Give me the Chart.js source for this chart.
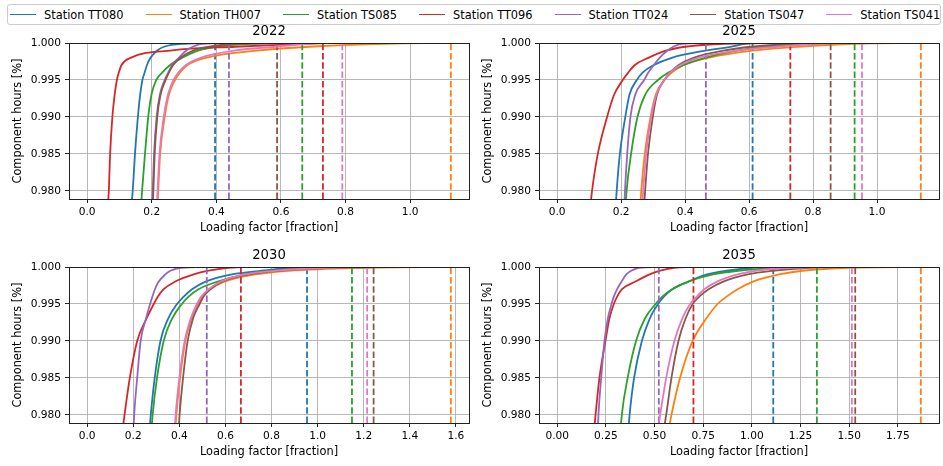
<!DOCTYPE html>
<html>
<head>
<meta charset="utf-8">
<script src="https://cdn.jsdelivr.net/npm/chart.js@4.4.1/dist/chart.umd.min.js"></script>
<style>
  body { margin: 0; width: 943px; height: 466px; background: #fff; position: relative; overflow: hidden; font-family: "DejaVu Sans", sans-serif; }
  #legend { position: absolute; left: 7px; top: 4px; width: 934px; height: 21px; box-sizing: border-box; border: 1px solid #ccc; border-radius: 3px;
            display: flex; align-items: center; padding-left: 2px; font-size: 11.4px; color: #000; }
  .item { display: flex; align-items: center; margin-right: 22px; white-space: nowrap; }
  .sw { width: 26px; height: 0; border-top: 1.8px solid; margin-right: 8px; }
  canvas { position: absolute; }
</style>
</head>
<body>
<div id="legend"></div>
<canvas id="c2022" width="472" height="216" style="left:0;top:24px"></canvas>
<canvas id="c2025" width="472" height="216" style="left:470px;top:24px"></canvas>
<canvas id="c2030" width="472" height="216" style="left:0;top:248px"></canvas>
<canvas id="c2035" width="472" height="216" style="left:470px;top:248px"></canvas>
<script>
const stations = ['Station TT080', 'Station TH007', 'Station TS085', 'Station TT096', 'Station TT024', 'Station TS047', 'Station TS041'];
const colors = ['#1f77b4', '#ff7f0e', '#2ca02c', '#d62728', '#9467bd', '#8c564b', '#e377c2'];

// component hours levels, loading factor read at each level (last one = max, dashed line)
const hourLevels = [0.978, 0.980, 0.985, 0.990, 0.993, 0.995, 0.996, 0.997, 0.998, 0.999, 0.9995, 0.9999, 1.000];

const load2022 = [
  [0.137, 0.141, 0.148, 0.157, 0.164, 0.171, 0.178, 0.185, 0.196, 0.217, 0.238, 0.300, 0.396],
  [0.218, 0.220, 0.226, 0.240, 0.253, 0.272, 0.287, 0.310, 0.367, 0.532, 0.687, 0.924, 1.126],
  [0.167, 0.170, 0.179, 0.189, 0.199, 0.214, 0.232, 0.256, 0.294, 0.346, 0.398, 0.521, 0.666],
  [0.064, 0.067, 0.071, 0.078, 0.085, 0.092, 0.098, 0.106, 0.134, 0.263, 0.459, 0.680, 0.730],
  [0.201, 0.203, 0.207, 0.215, 0.225, 0.240, 0.251, 0.263, 0.284, 0.307, 0.327, 0.356, 0.439],
  [0.203, 0.205, 0.209, 0.217, 0.227, 0.243, 0.253, 0.266, 0.289, 0.330, 0.377, 0.459, 0.588],
  [0.216, 0.218, 0.224, 0.237, 0.250, 0.267, 0.282, 0.305, 0.351, 0.459, 0.583, 0.687, 0.790]
];
const load2025 = [
  [0.183, 0.186, 0.196, 0.213, 0.226, 0.249, 0.267, 0.301, 0.358, 0.467, 0.545, 0.586, 0.611],
  [0.260, 0.263, 0.274, 0.292, 0.308, 0.335, 0.358, 0.394, 0.472, 0.618, 0.752, 0.929, 1.137],
  [0.214, 0.217, 0.231, 0.251, 0.275, 0.315, 0.348, 0.394, 0.462, 0.566, 0.649, 0.773, 0.930],
  [0.104, 0.109, 0.127, 0.156, 0.178, 0.205, 0.222, 0.242, 0.285, 0.343, 0.400, 0.524, 0.729],
  [0.210, 0.212, 0.219, 0.229, 0.244, 0.272, 0.285, 0.302, 0.320, 0.345, 0.363, 0.389, 0.465],
  [0.272, 0.275, 0.284, 0.299, 0.312, 0.335, 0.353, 0.379, 0.426, 0.524, 0.607, 0.732, 0.855],
  [0.266, 0.269, 0.278, 0.294, 0.310, 0.335, 0.353, 0.384, 0.441, 0.566, 0.690, 0.825, 0.953]
];
const load2030 = [
  [0.271, 0.276, 0.293, 0.318, 0.351, 0.390, 0.419, 0.455, 0.512, 0.628, 0.758, 0.880, 0.954],
  [0.382, 0.387, 0.403, 0.426, 0.452, 0.481, 0.501, 0.534, 0.592, 0.729, 0.873, 1.219, 1.578],
  [0.279, 0.284, 0.303, 0.332, 0.368, 0.411, 0.440, 0.483, 0.563, 0.685, 0.801, 0.974, 1.149],
  [0.154, 0.162, 0.185, 0.217, 0.257, 0.289, 0.307, 0.332, 0.380, 0.462, 0.527, 0.613, 0.667],
  [0.201, 0.204, 0.217, 0.232, 0.255, 0.273, 0.283, 0.294, 0.310, 0.339, 0.361, 0.411, 0.519],
  [0.397, 0.401, 0.416, 0.436, 0.459, 0.488, 0.505, 0.534, 0.584, 0.700, 0.830, 1.075, 1.243],
  [0.380, 0.384, 0.400, 0.423, 0.449, 0.476, 0.495, 0.527, 0.577, 0.685, 0.815, 1.046, 1.215]
];
const load2035 = [
  [0.366, 0.372, 0.395, 0.435, 0.475, 0.518, 0.548, 0.592, 0.672, 0.770, 0.870, 1.000, 1.110],
  [0.573, 0.587, 0.631, 0.696, 0.765, 0.824, 0.870, 0.927, 1.003, 1.140, 1.259, 1.500, 1.868],
  [0.326, 0.332, 0.362, 0.405, 0.450, 0.505, 0.540, 0.590, 0.670, 0.800, 0.930, 1.150, 1.334],
  [0.190, 0.197, 0.217, 0.248, 0.268, 0.291, 0.308, 0.333, 0.400, 0.475, 0.530, 0.600, 0.700],
  [0.209, 0.212, 0.226, 0.243, 0.260, 0.279, 0.291, 0.308, 0.330, 0.355, 0.380, 0.420, 0.522],
  [0.548, 0.560, 0.587, 0.623, 0.659, 0.696, 0.730, 0.778, 0.850, 0.978, 1.106, 1.300, 1.531],
  [0.517, 0.529, 0.560, 0.602, 0.642, 0.683, 0.717, 0.756, 0.819, 0.927, 1.020, 1.200, 1.514]
];

const xTicks2022 = [0, 0.2, 0.4, 0.6, 0.8, 1.0];
const xTicks2030 = [0, 0.2, 0.4, 0.6, 0.8, 1.0, 1.2, 1.4, 1.6];
const xTicks2035 = [0, 0.25, 0.5, 0.75, 1.0, 1.25, 1.5, 1.75];
const yTicks = [0.980, 0.985, 0.990, 0.995, 1.000];
const yMin = 0.9789, yMax = 1.0;

Chart.defaults.font.family = '"DejaVu Sans", sans-serif';
Chart.defaults.color = '#000';

// legend
const legend = document.getElementById('legend');
stations.forEach((s, i) => {
  const it = document.createElement('div');
  it.className = 'item';
  it.innerHTML = '<span class="sw" style="border-color:' + colors[i] + '"></span><span>' + s + '</span>';
  legend.appendChild(it);
});

// all four spines like matplotlib
const frame = {
  id: 'frame',
  afterDatasetsDraw(chart) {
    const a = chart.chartArea, c = chart.ctx;
    c.save();
    c.strokeStyle = '#222';
    c.lineWidth = 1;
    c.strokeRect(Math.round(a.left) + 0.5, Math.round(a.top) + 0.5, Math.round(a.right - a.left), Math.round(a.bottom - a.top));
    c.restore();
  }
};

function makePanel(id, year, loads, xTicks, decimals) {
  const maxLoad = Math.max(...loads.map(l => l[l.length - 1]));
  const datasets = [];
  loads.forEach((l, i) => {
    datasets.push({
      label: stations[i],
      data: l.map((x, k) => ({ x: x, y: hourLevels[k] })),
      borderColor: colors[i], borderWidth: 1.8, pointRadius: 0,
      cubicInterpolationMode: 'monotone', order: 100 - 2 * i
    });
    const m = l[l.length - 1];
    datasets.push({
      label: stations[i] + ' max',
      data: [{ x: m, y: yMin }, { x: m, y: yMax }],
      borderColor: colors[i], borderWidth: 1.8, borderDash: [6.5, 2.8], pointRadius: 0,
      tension: 0, order: 99 - 2 * i
    });
  });

  new Chart(document.getElementById(id), {
    type: 'line',
    data: { datasets },
    options: {
      responsive: false, animation: false,
      layout: { padding: { left: 0, right: 3, top: 0, bottom: 0 } },
      plugins: {
        legend: { display: false }, tooltip: { enabled: false },
        title: { display: true, text: year, fullSize: false, font: { size: 13.2, weight: 'normal' }, padding: { top: 0, bottom: 3.2 } }
      },
      scales: {
        x: {
          type: 'linear', min: -0.05 * maxLoad, max: 1.05 * maxLoad,
          afterFit: s => { s.height = 41; },
          afterBuildTicks: s => { s.ticks = xTicks.map(v => ({ value: v })); },
          ticks: { font: { size: 10.6 }, padding: 3, maxRotation: 0, callback: v => v.toFixed(decimals) },
          grid: { color: '#b0b0b0', lineWidth: 0.9, tickLength: 4, tickColor: '#222', tickWidth: 1 },
          border: { display: false },
          title: { display: true, text: 'Loading factor [fraction]', font: { size: 11.4 }, padding: { top: 0, bottom: 5.5 } }
        },
        y: {
          type: 'linear', min: yMin, max: yMax,
          afterFit: s => { s.width = 69; },
          afterBuildTicks: s => { s.ticks = yTicks.map(v => ({ value: v })); },
          ticks: { font: { size: 10.6 }, padding: 4, callback: v => v.toFixed(3) },
          grid: { color: '#b0b0b0', lineWidth: 0.9, tickLength: 4, tickColor: '#222', tickWidth: 1 },
          border: { display: false },
          title: { display: true, text: 'Component hours [%]', font: { size: 11.4 }, padding: { top: 11.3, bottom: 0 } }
        }
      }
    },
    plugins: [frame]
  });
}

makePanel('c2022', '2022', load2022, xTicks2022, 1);
makePanel('c2025', '2025', load2025, xTicks2022, 1);
makePanel('c2030', '2030', load2030, xTicks2030, 1);
makePanel('c2035', '2035', load2035, xTicks2035, 2);
</script>
</body>
</html>
